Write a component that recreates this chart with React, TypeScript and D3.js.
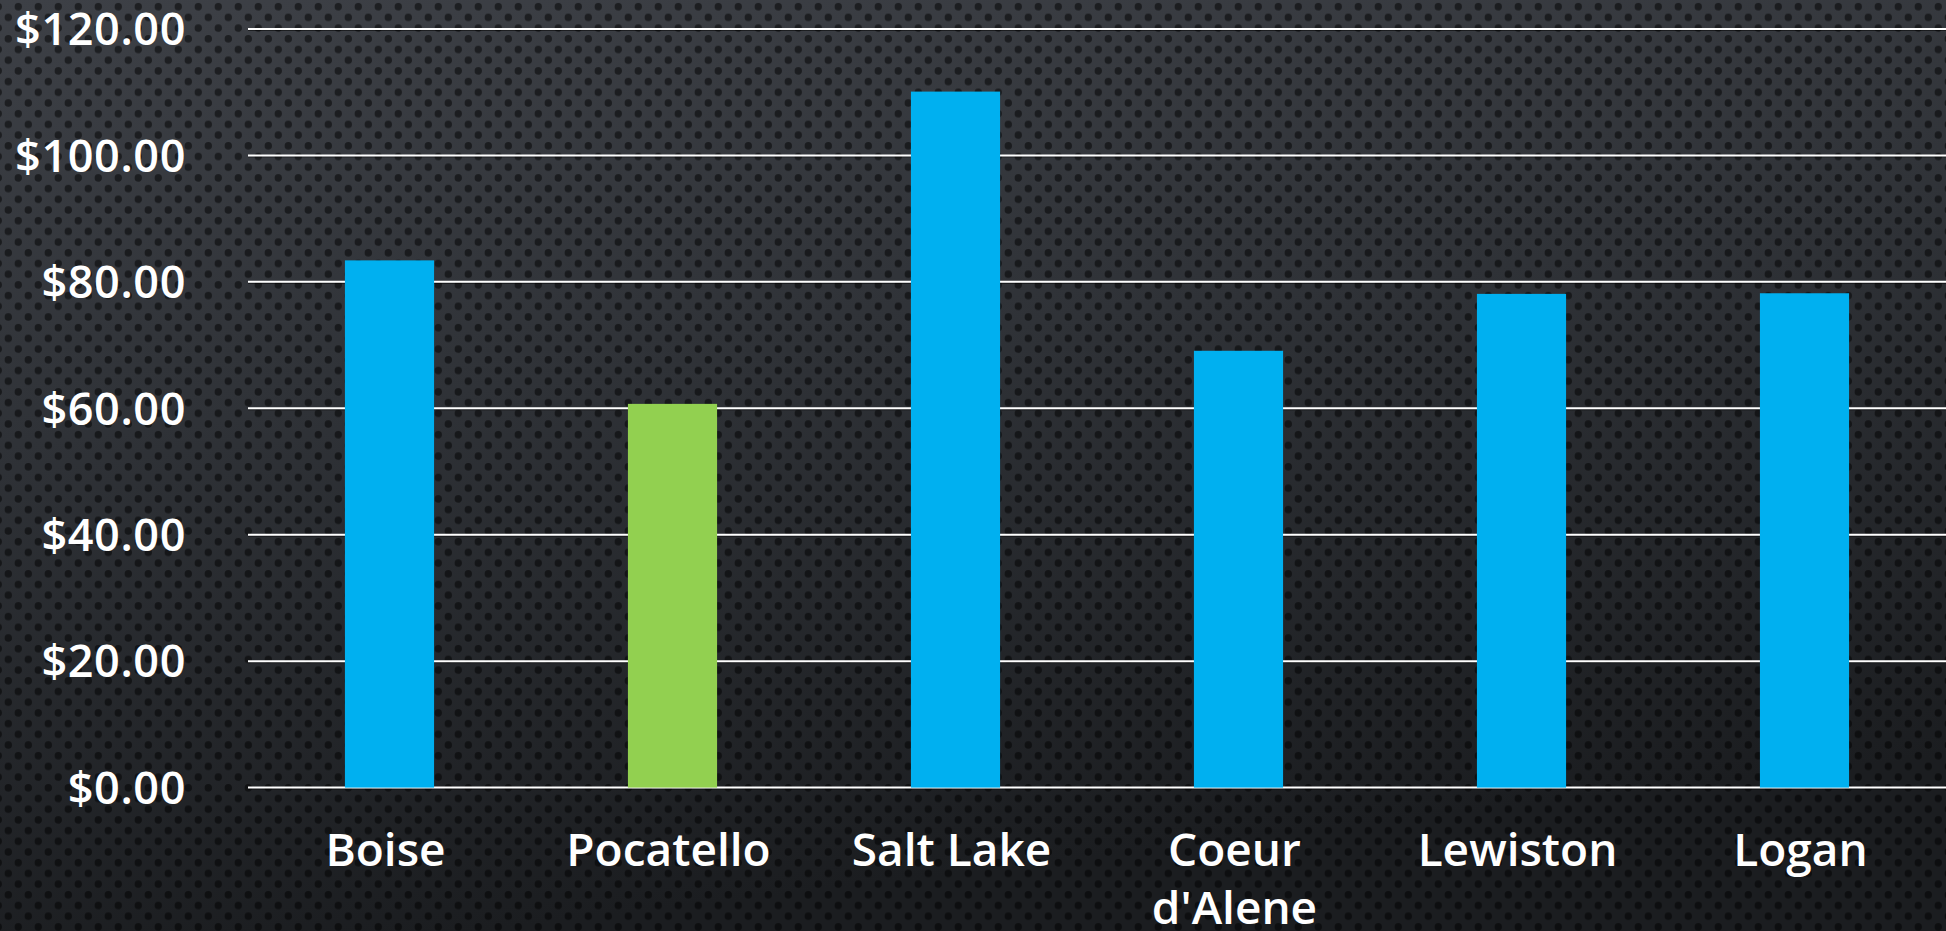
import React, { useEffect, useRef } from "react";
import * as d3 from "d3";

const categories = ["Boise", "Pocatello", "Salt Lake", "Coeur d'Alene", "Lewiston", "Logan"];
const values = [83.4, 60.7, 110.1, 69.1, 78.1, 78.2];
const barColors = ["#00B0F0", "#92D050", "#00B0F0", "#00B0F0", "#00B0F0", "#00B0F0"];
const yTicks = [0, 20, 40, 60, 80, 100, 120];

const W = 1946;
const H = 931;

export default function App() {
  const ref = useRef<SVGSVGElement | null>(null);

  useEffect(() => {
    const svg = d3.select(ref.current);
    svg.selectAll("*").remove();

    const defs = svg.append("defs");
    const grad = defs.append("linearGradient").attr("id", "bg").attr("x1", 0).attr("y1", 0).attr("x2", 0.25).attr("y2", 1);
    grad.append("stop").attr("offset", "0%").attr("stop-color", "#3d4046");
    grad.append("stop").attr("offset", "45%").attr("stop-color", "#2f3237");
    grad.append("stop").attr("offset", "100%").attr("stop-color", "#1b1d20");

    const pat = defs.append("pattern").attr("id", "dots").attr("patternUnits", "userSpaceOnUse")
      .attr("width", 20).attr("height", 21.4).attr("x", 0).attr("y", 0);
    pat.append("circle").attr("cx", 18.3).attr("cy", 6.7).attr("r", 3.7).attr("fill", "#000").attr("opacity", 0.5);
    pat.append("circle").attr("cx", 8.3).attr("cy", 17.4).attr("r", 3.7).attr("fill", "#000").attr("opacity", 0.5);
    pat.append("circle").attr("cx", -1.7).attr("cy", 6.7).attr("r", 3.7).attr("fill", "#000").attr("opacity", 0.5);

    svg.append("rect").attr("width", W).attr("height", H).attr("fill", "url(#bg)");
    svg.append("rect").attr("width", W).attr("height", H).attr("fill", "url(#dots)");

    const x = d3.scaleBand<string>().domain(categories).range([248, 1946]).paddingInner(0.685).paddingOuter(0.3425);
    const y = d3.scaleLinear().domain([0, 120]).range([787.6, 29]);

    const font = "'Open Sans', 'Liberation Sans', sans-serif";

    // gridlines
    const g = svg.append("g");
    g.selectAll("line.shadow").data(yTicks).join("line")
      .attr("class", "shadow")
      .attr("x1", 248).attr("x2", W)
      .attr("y1", (d) => y(d) + 1.5).attr("y2", (d) => y(d) + 1.5)
      .attr("stroke", "#000").attr("stroke-opacity", 0.5).attr("stroke-width", 1);
    g.selectAll("line.grid").data(yTicks).join("line")
      .attr("class", "grid")
      .attr("x1", 248).attr("x2", W)
      .attr("y1", (d) => y(d)).attr("y2", (d) => y(d))
      .attr("stroke", "#ffffff").attr("stroke-width", 2);

    // y labels
    svg.append("g").selectAll("text").data(yTicks).join("text")
      .attr("x", 186).attr("y", (d) => y(d)).attr("dy", "0.36em")
      .attr("text-anchor", "end")
      .attr("fill", "#ffffff")
      .attr("font-family", font).attr("font-size", 45).attr("font-weight", 600)
      .attr("letter-spacing", 0.6)
      .text((d) => "$" + d3.format(".2f")(d));

    // bars
    svg.append("g").selectAll("rect").data(categories).join("rect")
      .attr("x", (d) => x(d) as number)
      .attr("width", x.bandwidth())
      .attr("y", (d, i) => y(values[i]))
      .attr("height", (d, i) => y(0) - y(values[i]))
      .attr("fill", (d, i) => barColors[i]);

    // x labels with wrapping
    const maxW = x.step() - 20;
    const xl = svg.append("g");
    categories.forEach((c) => {
      const t = xl.append("text")
        .attr("text-anchor", "middle")
        .attr("fill", "#ffffff")
        .attr("font-family", font).attr("font-size", 46).attr("font-weight", 600);
      const cx = (x(c) as number) + x.bandwidth() / 2 - 4;
      const words = c.split(" ");
      const lines: string[] = [];
      let cur = "";
      words.forEach((w) => {
        const test = cur ? cur + " " + w : w;
        const tmp = t.append("tspan").text(test);
        const len = (tmp.node() as SVGTSpanElement).getComputedTextLength();
        tmp.remove();
        if (len > maxW - 10 && cur) {
          lines.push(cur);
          cur = w;
        } else {
          cur = test;
        }
      });
      if (cur) lines.push(cur);
      lines.forEach((ln, i) => {
        t.append("tspan").attr("x", cx).attr("y", 866 + i * 58).text(ln);
      });
    });
  }, []);

  return (
    <svg
      ref={ref}
      width={W}
      height={H}
      style={{ position: "absolute", left: 0, top: 0, display: "block" }}
    />
  );
}
